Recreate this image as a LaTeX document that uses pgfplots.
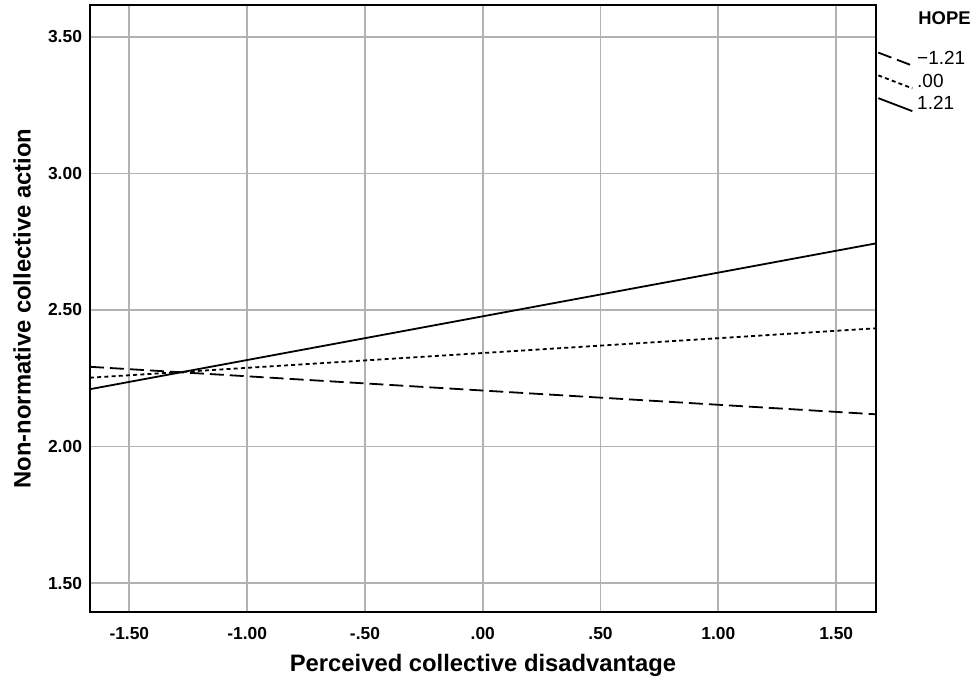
\documentclass[border=0pt]{standalone}
\usepackage{fontspec}
\setmainfont{Liberation Sans}
\usepackage{pgfplots}
\pgfplotsset{compat=1.18}
\begin{document}
\begin{tikzpicture}
\begin{axis}[
  name=ax,
  at={(0,0)}, anchor=south west,
  scale only axis,
  width=393pt, height=303.5pt,
  xmin=-1.667, xmax=1.669,
  ymin=1.394, ymax=3.617,
  xtick={-1.5,-1,-0.5,0,0.5,1,1.5},
  xticklabels={-1.50,-1.00,-.50,.00,.50,1.00,1.50},
  ytick={1.5,2,2.5,3,3.5},
  yticklabels={1.50,2.00,2.50,3.00,3.50},
  major tick length=0pt,
  tick label style={font=\fontsize{8.7}{9.5}\selectfont\bfseries},
  xticklabel style={yshift=-4pt},
  yticklabel style={xshift=-0.5pt},
  grid=major,
  grid style={color=black!30, line width=0.9pt},
  axis line style={line width=0.8pt},
  xlabel={Perceived collective disadvantage},
  ylabel={Non-normative collective action},
  label style={font=\fontsize{11.9}{13}\selectfont\bfseries},
  xlabel style={at={(axis description cs:0.5,-0.0873)}, anchor=center},
  ylabel style={at={(axis description cs:-0.0865,0.5)}, anchor=center},
  legend cell align=left,
  legend style={draw=none, fill=none, at={(1,0.9315)}, anchor=north west,
    font=\fontsize{9.5}{10}\selectfont, inner sep=0pt, row sep=-0.75pt, xshift=0.5pt},
  legend image code/.code={\draw[#1] (0pt,3.25pt) -- (17pt,-3.25pt);},
]
\addplot[black, line width=0.9pt, dash pattern=on 7pt off 3pt] coordinates {(-1.667,2.292) (1.669,2.118)};
\addlegendentry{−1.21}
\addplot[black, line width=0.9pt, dash pattern=on 2pt off 1.6pt] coordinates {(-1.667,2.252) (1.669,2.433)};
\addlegendentry{.00}
\addplot[black, line width=0.9pt] coordinates {(-1.667,2.210) (1.669,2.744)};
\addlegendentry{1.21}
\end{axis}
\node[anchor=west, font=\fontsize{9.2}{10}\selectfont\bfseries, inner sep=0pt] at ([xshift=21pt,yshift=-6.5pt]ax.north east) {HOPE};
\pgfresetboundingbox
\path (-45pt,-36pt) rectangle (442.5pt,306pt);
\end{tikzpicture}
\end{document}
